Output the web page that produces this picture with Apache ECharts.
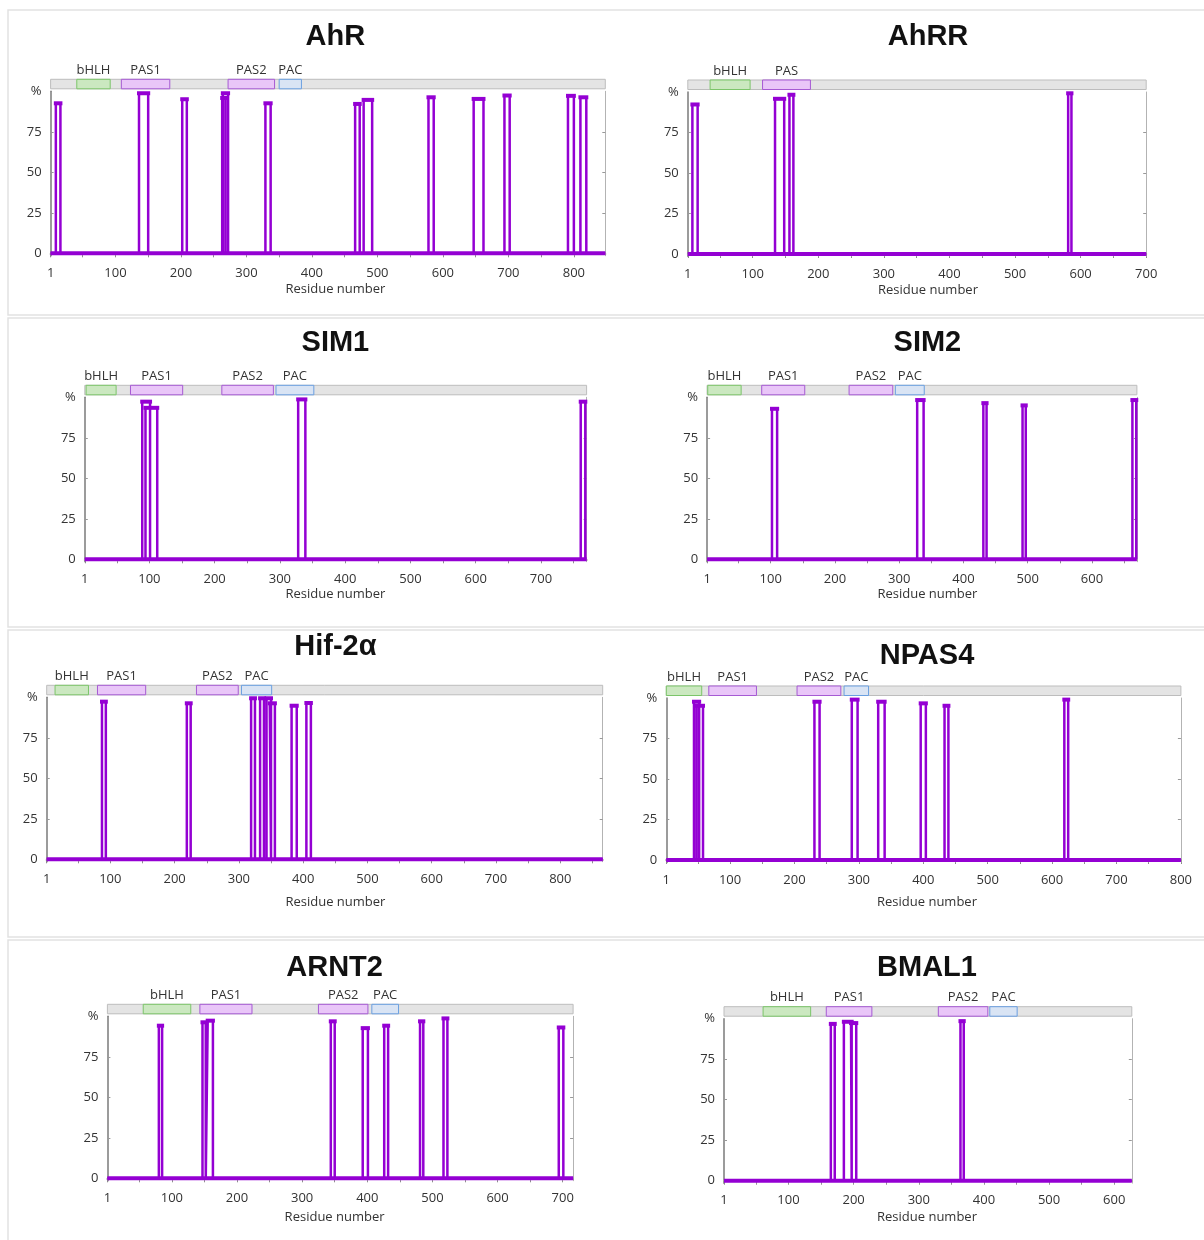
<!DOCTYPE html>
<html><head><meta charset="utf-8">
<script src="https://cdn.jsdelivr.net/npm/echarts@6/dist/echarts.min.js"></script>
<style>html,body{margin:0;padding:0;background:#fff}#c{width:1204px;height:1240px}</style>
</head><body><div id="c"></div>
<script>
// ---------------- DATA ----------------
const proteins = ['AhR', 'AhRR', 'SIM1', 'SIM2', 'Hif-2α', 'NPAS4', 'ARNT2', 'BMAL1'];
const lengths = [848, 700, 770, 670, 866, 800, 716, 627];
const yTickValues = [0, 25, 50, 75, 100];

const xLabelsAhR = [1, 100, 200, 300, 400, 500, 600, 700, 800];
const xLabelsAhRR = [1, 100, 200, 300, 400, 500, 600, 700];
const xLabelsSIM1 = [1, 100, 200, 300, 400, 500, 600, 700];
const xLabelsSIM2 = [1, 100, 200, 300, 400, 500, 600];
const xLabelsHif = [1, 100, 200, 300, 400, 500, 600, 700, 800];
const xLabelsNPAS4 = [1, 100, 200, 300, 400, 500, 600, 700, 800];
const xLabelsARNT2 = [1, 100, 200, 300, 400, 500, 600, 700];
const xLabelsBMAL1 = [1, 100, 200, 300, 400, 500, 600];

// peaks: [start residue, end residue, percent]
const peaksAhR = [[9,16,92.6],[136,150,98.8],[202,209,95.1],[263,268,95.9],[264,272,98.8],[329,337,92.6],[466,473,92.2],[479,492,94.7],[578,586,96.3],[647,662,95.3],[694,702,97.4],[791,800,97.2],[810,819,96.3]];
const peaksAhRR = [[8,16,92.3],[134,148,95.8],[156,162,98.3],[581,586,99.2]];
const peaksSIM1 = [[89,101,97.3],[94,112,93.5],[328,339,98.7],[761,768,97.3]];
const peaksSIM2 = [[102,110,92.9],[328,338,98.3],[431,436,96.4],[492,497,95.0],[663,669,98.3]];
const peaksHif = [[87,93,97.3],[219,225,96.3],[319,325,99.4],[333,339,99.4],[343,350,99.4],[348,356,96.3],[382,390,94.8],[405,412,96.5]];
const peaksNPAS4 = [[44,52,97.7],[48,58,95.2],[231,239,97.7],[289,298,99.0],[330,340,97.7],[396,404,96.7],[433,439,95.2],[619,625,99.0]];
const peaksARNT2 = [[80,85,94.2],[147,152,96.3],[155,163,97.3],[344,350,96.9],[393,401,92.7],[426,432,94.2],[481,486,96.9],[517,523,98.7],[694,701,93.1]];
const peaksBMAL1 = [[165,171,96.8],[185,197,98.1],[196,204,97.3],[364,369,98.5]];

// domains: [name, start, end]
const domainsAhR = [['bHLH',41,92],['PAS1',109,183],['PAS2',272,343],['PAC',350,384]];
const domainsAhRR = [['bHLH',35,96],['PAS',115,188]];
const domainsSIM1 = [['bHLH',3,49],['PAS1',71,151],['PAS2',211,290],['PAC',294,352]];
const domainsSIM2 = [['bHLH',2,54],['PAS1',86,153],['PAS2',222,290],['PAC',294,339]];
const domainsHif = [['bHLH',14,66],['PAS1',80,155],['PAS2',234,299],['PAC',304,351]];
const domainsNPAS4 = [['bHLH',1,56],['PAS1',67,141],['PAS2',204,272],['PAC',277,315]];
const domainsARNT2 = [['bHLH',56,129],['PAS1',143,223],['PAS2',325,401],['PAC',407,448]];
const domainsBMAL1 = [['bHLH',61,134],['PAS1',158,228],['PAS2',330,406],['PAC',409,451]];

const xLabels = [xLabelsAhR, xLabelsAhRR, xLabelsSIM1, xLabelsSIM2, xLabelsHif, xLabelsNPAS4, xLabelsARNT2, xLabelsBMAL1];
const peaks = [peaksAhR, peaksAhRR, peaksSIM1, peaksSIM2, peaksHif, peaksNPAS4, peaksARNT2, peaksBMAL1];
const domains = [domainsAhR, domainsAhRR, domainsSIM1, domainsSIM2, domainsHif, domainsNPAS4, domainsARNT2, domainsBMAL1];

// ---------------- LAYOUT / STYLE ----------------
const layout = [
  {left: 50.6, width: 554.7, y0: 253.3, cx: 335.4, ty: 36.7, nameGap: 27},
  {left: 687.8, width: 458.4, y0: 254.0, cx: 928, ty: 36.7, nameGap: 27},
  {left: 84.8, width: 501.8, y0: 559.3, cx: 335.4, ty: 343, nameGap: 26},
  {left: 707.1, width: 429.8, y0: 559.3, cx: 927.4, ty: 343, nameGap: 26},
  {left: 46.7, width: 556.0, y0: 859.3, cx: 335.4, ty: 646.7, nameGap: 34.5},
  {left: 666.3, width: 514.6, y0: 860.0, cx: 927, ty: 655.7, nameGap: 33.5},
  {left: 107.4, width: 465.7, y0: 1178.3, cx: 334.6, ty: 968, nameGap: 30},
  {left: 724.0, width: 407.8, y0: 1180.7, cx: 927, ty: 968, nameGap: 28}
];
const PX_PER_UNIT = 1.62;
const Y_MIN = -1.5, Y_MAX = 100;
const LINE_COLOR = '#9400d3';
const FONT = '"Open Sans", "Liberation Sans", sans-serif';
const domainStyle = {
  bar:  {fill: '#e4e4e4', stroke: '#bdbdbd'},
  bHLH: {fill: '#cbe8c0', stroke: '#7cc56a'},
  PAS:  {fill: '#e9c6f8', stroke: '#a65ad3'},
  PAC:  {fill: '#d9e4f4', stroke: '#6a9fe0'}
};
function kindOf(name) { return name === 'bHLH' ? 'bHLH' : (name === 'PAC' ? 'PAC' : 'PAS'); }

const grids = [], xAxes = [], yAxes = [], series = [], titles = [];

proteins.forEach((p, i) => {
  const lo = layout[i];
  const L = lengths[i];
  const top = lo.y0 - Y_MAX * PX_PER_UNIT;
  const height = (Y_MAX - Y_MIN) * PX_PER_UNIT;
  grids.push({left: lo.left, top: top, width: lo.width, height: height, containLabel: false});

  const gridCenter = lo.left + lo.width / 2;
  const shift = lo.cx - gridCenter;
  const namePad = shift >= 0 ? [0, 0, 0, 2 * shift] : [0, -2 * shift, 0, 0];

  const ticks = [1];
  for (let v = 50; v <= L; v += 50) ticks.push(v);

  xAxes.push({
    gridIndex: i, type: 'value', position: 'bottom', min: 1, max: L,
    axisLine: {show: true, lineStyle: {color: '#9a9a9a', width: 2}},
    axisTick: {show: true, customValues: ticks, length: 4, lineStyle: {color: '#8a8a8a'}},
    axisLabel: {show: true, customValues: xLabels[i], margin: 11, fontSize: 13, color: '#333', fontFamily: FONT},
    splitLine: {show: false},
    name: 'Residue number', nameLocation: 'middle', nameGap: lo.nameGap,
    nameTextStyle: {fontSize: 13, color: '#333', fontFamily: FONT, padding: namePad}
  });
  xAxes.push({
    gridIndex: i, type: 'value', position: 'top', min: 1, max: L,
    axisLine: {show: true, lineStyle: {color: '#b3b3b3', width: 1}},
    axisTick: {show: true, inside: true, customValues: ticks.slice(1), length: 3, lineStyle: {color: '#999'}},
    axisLabel: {show: false}, splitLine: {show: false}
  });
  yAxes.push({
    gridIndex: i, type: 'value', position: 'left', min: Y_MIN, max: Y_MAX,
    axisLine: {show: true, lineStyle: {color: '#7a7a7a', width: 1.5}},
    axisTick: {show: true, inside: true, customValues: [25, 50, 75], length: 3, lineStyle: {color: '#999'}},
    axisLabel: {show: true, customValues: yTickValues, margin: 9, fontSize: 13, color: '#333', fontFamily: FONT,
      formatter: v => (v === 100 ? '%' : String(v))},
    splitLine: {show: false}
  });
  yAxes.push({
    gridIndex: i, type: 'value', position: 'right', min: Y_MIN, max: Y_MAX,
    axisLine: {show: true, lineStyle: {color: '#b3b3b3', width: 1}},
    axisTick: {show: true, inside: true, customValues: [25, 50, 75], length: 3, lineStyle: {color: '#999'}},
    axisLabel: {show: false}, splitLine: {show: false}
  });

  const xi = 2 * i, yi = 2 * i;

  // profile line from the peaks table
  const sorted = peaks[i].slice().sort((a, b) => a[0] - b[0]);
  const prof = [[1, 0]];
  sorted.forEach(pk => { prof.push([pk[0], 0], [pk[0], pk[2]], [pk[1], pk[2]], [pk[1], 0]); });
  prof.push([L, 0]);
  series.push({
    type: 'line', xAxisIndex: xi, yAxisIndex: yi, data: prof, showSymbol: false, symbol: 'none',
    lineStyle: {color: LINE_COLOR, width: 2.5}, animation: false, silent: true, z: 3
  });
  // thick baseline
  series.push({
    type: 'line', xAxisIndex: xi, yAxisIndex: yi, data: [[1, 0], [L, 0]], showSymbol: false, symbol: 'none',
    lineStyle: {color: LINE_COLOR, width: 4}, animation: false, silent: true, z: 4
  });
  // thick caps at top of each peak
  series.push({
    type: 'custom', xAxisIndex: xi, yAxisIndex: yi, animation: false, silent: true, z: 5,
    encode: {x: [0, 1], y: 2},
    data: peaks[i].map(pk => [pk[0], pk[1], pk[2]]),
    renderItem: function (params, api) {
      const a = api.coord([api.value(0), api.value(2)]);
      const b = api.coord([api.value(1), api.value(2)]);
      return {type: 'line', shape: {x1: a[0], y1: a[1], x2: b[0], y2: b[1]},
        style: {stroke: LINE_COLOR, lineWidth: 4, lineCap: 'square'}};
    }
  });
  // domain bar
  const items = [{kind: 'bar', name: '', value: [1, L, Y_MAX]}].concat(
    domains[i].map(d => ({kind: kindOf(d[0]), name: d[0], value: [d[1], d[2], Y_MAX]})));
  series.push({
    type: 'custom', xAxisIndex: xi, yAxisIndex: yi, animation: false, silent: true, clip: false, z: 6,
    encode: {x: [0, 1], y: 2},
    data: items.map(it => it.value),
    renderItem: function (params, api) {
      const it = items[params.dataIndex];
      const p1 = api.coord([api.value(0), Y_MAX]);
      const p2 = api.coord([api.value(1), Y_MAX]);
      const y = p1[1] - 12;
      const st = domainStyle[it.kind];
      const children = [{type: 'rect', shape: {x: p1[0], y: y, width: p2[0] - p1[0], height: 9.5},
        style: {fill: st.fill, stroke: st.stroke, lineWidth: 1}}];
      if (it.name) {
        children.push({type: 'text', style: {text: it.name, x: (p1[0] + p2[0]) / 2, y: y - 9,
          textAlign: 'center', textVerticalAlign: 'middle', align: 'center', verticalAlign: 'middle',
          fill: '#333', font: '13px ' + FONT}});
      }
      return {type: 'group', children: children};
    }
  });

  titles.push({
    text: p, left: lo.cx, top: lo.ty - 17, textAlign: 'center', padding: 0,
    textStyle: {fontSize: 29, fontWeight: 'bold', color: '#111', fontFamily: '"Liberation Sans", Arial, sans-serif', lineHeight: 34}
  });
});

const rows = [[10, 305], [318, 309], [630, 307], [940, 320]];
const graphic = rows.map(r => ({type: 'rect', silent: true, z: -10,
  shape: {x: 8, y: r[0], width: 1230, height: r[1]},
  style: {fill: 'none', stroke: '#e2e2e2', lineWidth: 1.5}}));

const chart = echarts.init(document.getElementById('c'), null, {renderer: 'canvas', width: 1204, height: 1240});
chart.setOption({
  backgroundColor: '#fff',
  animation: false,
  title: titles,
  grid: grids,
  xAxis: xAxes,
  yAxis: yAxes,
  series: series,
  graphic: graphic
});
</script>
</body></html>
